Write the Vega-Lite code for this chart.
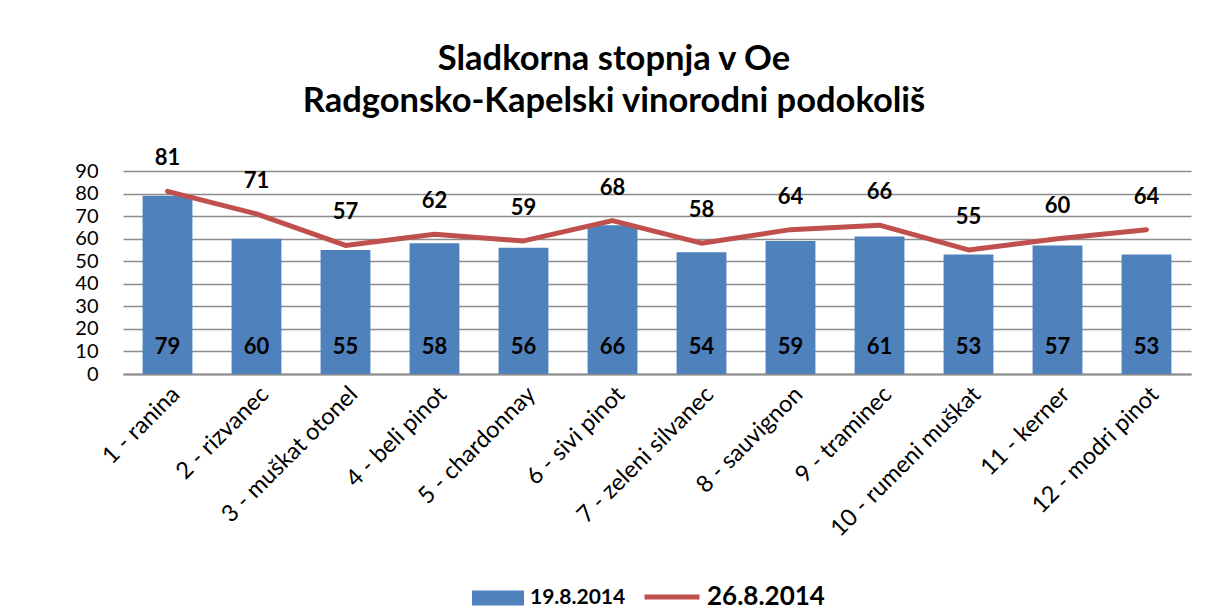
{
  "$schema": "https://vega.github.io/schema/vega-lite/v6.json",
  "width": 1068,
  "height": 203,
  "autosize": {"type": "none"},
  "padding": {"left": 123, "top": 171, "right": 17, "bottom": 242},
  "background": "white",
  "config": {
    "font": "Lato",
    "view": {"stroke": null},
    "axisY": {
      "title": null,
      "labelOverlap": false,
      "grid": true,
      "gridColor": "#8c8c8c",
      "gridWidth": 1.5,
      "domain": false,
      "ticks": false,
      "labelFontSize": 20,
      "labelColor": "black",
      "labelPadding": 25
    }
  },
  "title": {
    "text": ["Sladkorna stopnja v Oe", "Radgonsko-Kapelski vinorodni podokoliš"],
    "font": "Lato",
    "fontSize": 34.5,
    "fontWeight": "bold",
    "lineHeight": 42,
    "color": "black",
    "anchor": "middle",
    "dx": -43,
    "offset": 28
  },
  "data": {
    "values": [
      {"sorta": "1 - ranina", "v19": 79, "v26": 81},
      {"sorta": "2 - rizvanec", "v19": 60, "v26": 71},
      {"sorta": "3 - muškat otonel", "v19": 55, "v26": 57},
      {"sorta": "4 - beli pinot", "v19": 58, "v26": 62},
      {"sorta": "5 - chardonnay", "v19": 56, "v26": 59},
      {"sorta": "6 - sivi pinot", "v19": 66, "v26": 68},
      {"sorta": "7 - zeleni silvanec", "v19": 54, "v26": 58},
      {"sorta": "8 - sauvignon", "v19": 59, "v26": 64},
      {"sorta": "9 - traminec", "v19": 61, "v26": 66},
      {"sorta": "10 - rumeni muškat", "v19": 53, "v26": 55},
      {"sorta": "11 - kerner", "v19": 57, "v26": 60},
      {"sorta": "12 - modri pinot", "v19": 53, "v26": 64}
    ]
  },
  "encoding": {
    "x": {
      "field": "sorta",
      "type": "nominal",
      "sort": null,
      "scale": {"paddingInner": 0.44, "paddingOuter": 0.22},
      "axis": {
        "title": null,
        "labelAngle": -45,
        "labelFontSize": 23.5,
        "labelColor": "black",
        "labelPadding": 8,
        "labelLimit": 400,
        "labelOverlap": false,
        "ticks": false,
        "domain": true,
        "domainColor": "#8c8c8c",
        "domainWidth": 2,
        "grid": false
      }
    }
  },
  "layer": [
    {
      "mark": {"type": "bar"},
      "encoding": {
        "y": {
          "field": "v19",
          "type": "quantitative",
          "scale": {"domain": [0, 90], "nice": false},
          "axis": {"values": [0, 10, 20, 30, 40, 50, 60, 70, 80, 90]}
        },
        "color": {
          "datum": "19.8.2014",
          "type": "nominal",
          "scale": {"range": ["#4F81BD"]},
          "legend": {
            "title": null,
            "orient": "none",
            "legendX": 349,
            "legendY": 401,
            "symbolType": "M-1,-0.29H1V0.29H-1Z",
            "symbolSize": 2704,
            "symbolStrokeWidth": 0,
            "labelFontSize": 21,
            "labelFontWeight": "bold",
            "labelColor": "black",
            "labelOffset": 6
          }
        }
      }
    },
    {
      "mark": {"type": "text", "fontSize": 22, "fontWeight": "bold", "color": "black", "baseline": "middle", "dy": -27},
      "encoding": {
        "y": {"datum": 0, "type": "quantitative", "axis": {"values": [0, 10, 20, 30, 40, 50, 60, 70, 80, 90]}},
        "text": {"field": "v19", "type": "quantitative"}
      }
    },
    {
      "mark": {"type": "line", "strokeWidth": 5, "strokeCap": "round", "strokeJoin": "round"},
      "encoding": {
        "y": {"field": "v26", "type": "quantitative", "axis": {"values": [0, 10, 20, 30, 40, 50, 60, 70, 80, 90]}},
        "stroke": {
          "datum": "26.8.2014",
          "type": "nominal",
          "scale": {"range": ["#C0504D"]},
          "legend": {
            "title": null,
            "orient": "none",
            "legendX": 519,
            "legendY": 396,
            "symbolType": "stroke",
            "symbolSize": 3025,
            "symbolStrokeWidth": 5,
            "labelFontSize": 26,
            "labelFontWeight": "bold",
            "labelColor": "black",
            "labelOffset": 5
          }
        }
      }
    },
    {
      "mark": {"type": "text", "fontSize": 22, "fontWeight": "bold", "color": "black", "baseline": "middle", "dy": -33},
      "encoding": {
        "y": {"field": "v26", "type": "quantitative", "axis": {"values": [0, 10, 20, 30, 40, 50, 60, 70, 80, 90]}},
        "text": {"field": "v26", "type": "quantitative"}
      }
    }
  ]
}
